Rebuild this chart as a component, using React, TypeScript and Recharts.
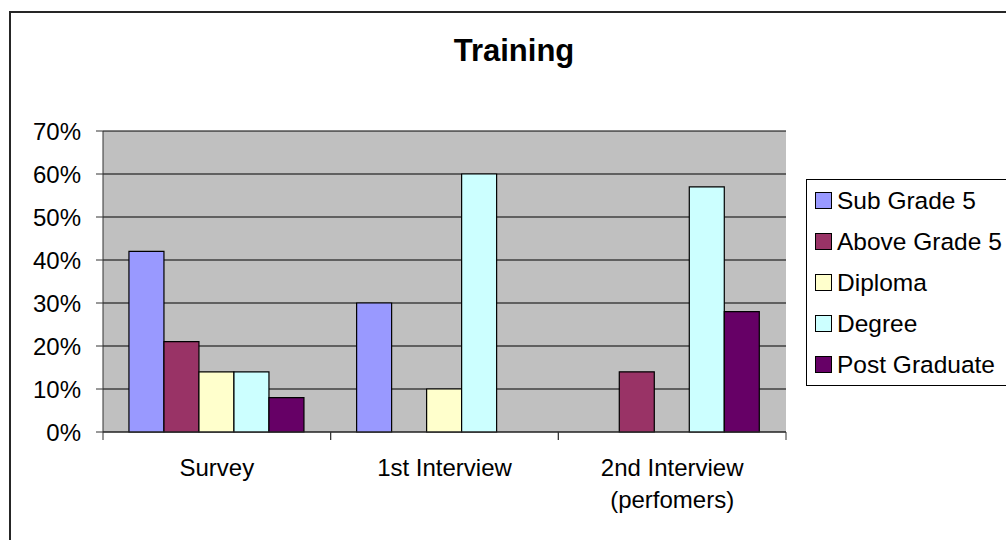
import { BarChart, Bar, XAxis, YAxis, CartesianGrid } from "recharts";

const FONT = "'Liberation Sans', Arial, sans-serif";

const stages = ["Survey", "1st Interview", "2nd Interview\n(perfomers)"];
const subGrade5 = [42, 30, 0];
const aboveGrade5 = [21, 0, 14];
const diploma = [14, 10, 0];
const degree = [14, 60, 57];
const postGraduate = [8, 0, 28];
const percentTicks = [0, 10, 20, 30, 40, 50, 60, 70];

const series = [
  { key: "sub", name: "Sub Grade 5", values: subGrade5, color: "#9999FF" },
  { key: "above", name: "Above Grade 5", values: aboveGrade5, color: "#993366" },
  { key: "diploma", name: "Diploma", values: diploma, color: "#FFFFCC" },
  { key: "degree", name: "Degree", values: degree, color: "#CCFFFF" },
  { key: "post", name: "Post Graduate", values: postGraduate, color: "#660066" },
];

const rows = stages.map((stage, i) => {
  const row: Record<string, string | number> = { stage };
  series.forEach((s) => (row[s.key] = s.values[i]));
  return row;
});

// category label plus tick marks on both edges of the band
const StageTick = ({ x, y, payload }: any) => {
  const lines = String(payload.value).split("\n");
  const half = payload.offset ?? 0;
  return (
    <g>
      <line x1={x - half} x2={x - half} y1={y} y2={y + 8} stroke="#333" />
      <line x1={x + half} x2={x + half} y1={y} y2={y + 8} stroke="#333" />
      <text x={x} y={y} textAnchor="middle" fontFamily={FONT} fontSize={24} fill="#000">
        {lines.map((line, i) => (
          <tspan key={i} x={x} dy={i === 0 ? 44 : 32}>
            {line}
          </tspan>
        ))}
      </text>
    </g>
  );
};

const ChartLegend = () => (
  <div
    style={{
      position: "absolute",
      left: 806,
      top: 179,
      width: 240,
      border: "1px solid #000",
      background: "#fff",
      fontFamily: FONT,
      fontSize: 24.5,
      lineHeight: "41px",
    }}
  >
    {series.map((s) => (
      <div key={s.key} style={{ display: "flex", alignItems: "center", paddingLeft: 8 }}>
        <span
          style={{
            display: "inline-block",
            width: 15,
            height: 15,
            background: s.color,
            border: "1px solid #000",
            marginRight: 5,
          }}
        />
        <span>{s.name}</span>
      </div>
    ))}
  </div>
);

export default function App() {
  return (
    <div
      style={{
        position: "fixed",
        left: 0,
        top: 0,
        width: 1006,
        height: 540,
        overflow: "hidden",
        background: "#fff",
      }}
    >
      <div
        style={{
          position: "absolute",
          left: 9,
          top: 11,
          width: 1100,
          height: 700,
          border: "2px solid #262626",
        }}
      />
      <svg style={{ position: "absolute", left: 0, top: 0 }} width={1006} height={100}>
        <text x={514} y={61} textAnchor="middle" fontFamily={FONT} fontSize={31} fontWeight="bold">
          Training
        </text>
      </svg>
      <div style={{ position: "absolute", left: 0, top: 0 }}>
        <BarChart
          width={1006}
          height={540}
          data={rows}
          margin={{ top: 131, right: 220, bottom: 0, left: 0 }}
          barCategoryGap="11.4%"
          barGap={0}
        >
          <CartesianGrid vertical={false} stroke="#000" fill="#C0C0C0" />
          <XAxis
            dataKey="stage"
            height={108}
            axisLine={{ stroke: "#333" }}
            tickLine={false}
            tickSize={0}
            tickMargin={0}
            interval={0}
            tick={<StageTick />}
          />
          <YAxis
            width={103}
            domain={[0, 70]}
            ticks={percentTicks}
            tickFormatter={(v: number) => `${v}%`}
            tickSize={7}
            tickMargin={15}
            tick={{ fontFamily: FONT, fontSize: 24, fill: "#000" }}
            tickLine={{ stroke: "#333" }}
            axisLine={{ stroke: "#333" }}
          />
          <YAxis
            yAxisId="frame"
            orientation="right"
            width={0}
            domain={[0, 70]}
            tick={false}
            tickLine={false}
            axisLine={{ stroke: "#808080" }}
          />
          {series.map((s) => (
            <Bar
              key={s.key}
              dataKey={s.key}
              name={s.name}
              fill={s.color}
              stroke="#000"
              strokeWidth={1.2}
              isAnimationActive={false}
            />
          ))}
        </BarChart>
      </div>
      <ChartLegend />
    </div>
  );
}
